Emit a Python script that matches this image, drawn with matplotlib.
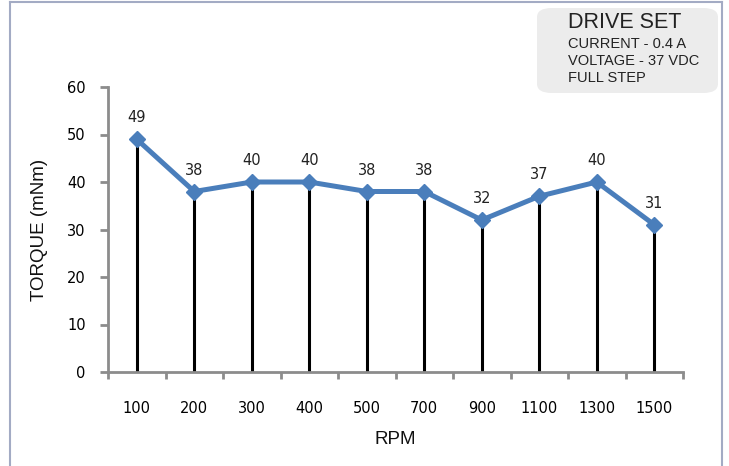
import numpy as np
import matplotlib
matplotlib.use('Agg')
import matplotlib.pyplot as plt
from matplotlib.patches import FancyBboxPatch
from matplotlib.lines import Line2D

rpm = ['100', '200', '300', '400', '500', '700', '900', '1100', '1300', '1500']
torque = [49, 38, 40, 40, 38, 38, 32, 37, 40, 31]
yticks = [0, 10, 20, 30, 40, 50, 60]
box_lines = ['CURRENT - 0.4 A', 'VOLTAGE - 37 VDC', 'FULL STEP']

W, H = 729, 466
fig = plt.figure(figsize=(W / 100, H / 100), dpi=100)
ax = fig.add_axes([108 / W, 1 - 372 / H, (683 - 108) / W, (372 - 87) / H])

x = np.arange(len(rpm))
ax.vlines(x, 0, torque, colors='black', linewidth=2.2, zorder=2)
ax.plot(x, torque, color='#4a7ebb', linewidth=3.6, marker='D', markersize=8,
        markerfacecolor='#4a7ebb', markeredgecolor='#4a7ebb', zorder=3)
for xi, t in zip(x, torque):
    ax.annotate(str(t), (xi, t), xytext=(0, 10), textcoords='offset points',
                ha='center', va='bottom', fontsize=10.5, color='#222222')

ax.set_xlim(-0.5, len(rpm) - 0.5)
ax.set_ylim(0, 60)
ax.set_yticks(yticks)
ax.set_xticks(x)
ax.set_xticklabels(rpm)
ax.set_xticks(np.arange(-0.5, len(rpm)), minor=True)
ax.tick_params(axis='x', which='major', length=0, pad=21, labelsize=10.5)
ax.tick_params(axis='x', which='minor', length=5, width=2, color='#8c8c8c', direction='out')
ax.tick_params(axis='y', length=6, width=2, color='#8c8c8c', direction='out',
               pad=10, labelsize=10.5)
for s in ['top', 'right']:
    ax.spines[s].set_visible(False)
for s in ['left', 'bottom']:
    ax.spines[s].set_color('#8c8c8c')
    ax.spines[s].set_linewidth(2)

fig.text(40 / W, 1 - 230 / H, 'TORQUE (mNm)', rotation=90, ha='center', va='center',
         fontsize=13.5, family='Liberation Sans', color='#111111')
fig.text(395 / W, 1 - 440 / H, 'RPM', ha='center', va='center',
         fontsize=13.5, family='Liberation Sans', color='#111111')

# outer frame
fc = '#a3abc4'
fig.add_artist(Line2D([10 / W, 10 / W], [0, 1 - 1.5 / H], color=fc, linewidth=1.5,
                      transform=fig.transFigure))
fig.add_artist(Line2D([722 / W, 722 / W], [0, 1 - 1.5 / H], color=fc, linewidth=1.5,
                      transform=fig.transFigure))
fig.add_artist(Line2D([10 / W, 722 / W], [1 - 1.5 / H, 1 - 1.5 / H], color=fc,
                      linewidth=1.5, transform=fig.transFigure))

# drive set box
box = FancyBboxPatch((537 / W, 1 - 93 / H), (718 - 537) / W, (93 - 8) / H,
                     boxstyle='round,pad=0,rounding_size=0.02', transform=fig.transFigure,
                     facecolor='#ececec', edgecolor='none')
fig.add_artist(box)
fig.text(568 / W, 1 - 22 / H, 'DRIVE SET', ha='left', va='center', fontsize=15.5,
         family='Liberation Sans', color='#222222')
for i, line in enumerate(box_lines):
    fig.text(568 / W, 1 - (44 + i * 17) / H, line, ha='left', va='center', fontsize=10.5,
             family='Liberation Sans', color='#222222')

fig.savefig('out.png', dpi=100)
